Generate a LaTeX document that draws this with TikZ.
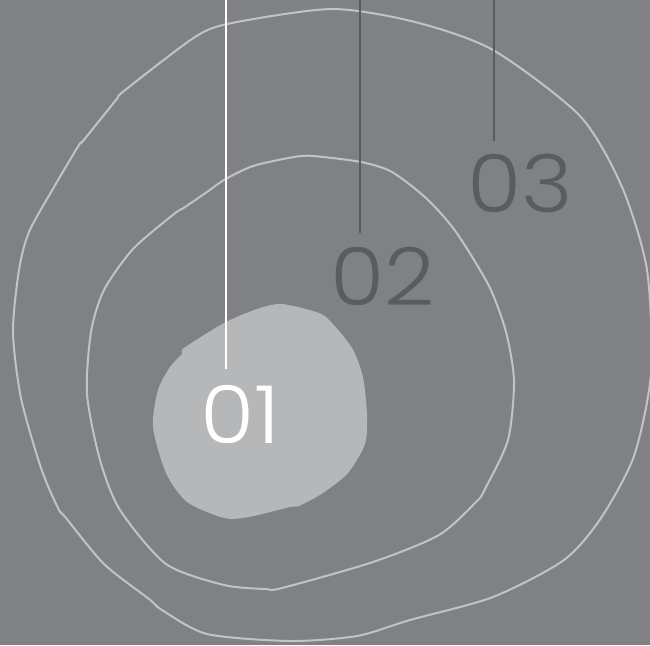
\documentclass[tikz,border=0pt]{standalone}
\usepackage{fontspec}
\newfontfamily\numfont{Poppins Light}[FakeStretch=1.1]
\definecolor{bg}{HTML}{808185}
\definecolor{blob}{HTML}{B6B7B9}
\definecolor{ring}{HTML}{C2C3C5}
\definecolor{darknum}{HTML}{5B5C5F}
\tikzset{
  ringline/.style={draw=ring, line width=2pt, line join=round},
  numtext/.style={inner sep=0pt, anchor=base west, font=\numfont\fontsize{80}{80}\selectfont},
  pin/.style={line width=2.6pt}
}
\begin{document}
\begin{tikzpicture}[x=1pt,y=-1pt]
\fill[bg] (0,0) rectangle (650,645);
\useasboundingbox (0,0) rectangle (650,645);
% outer ring
\draw[ringline] plot[smooth cycle, tension=0.45] coordinates {
(332,9) (415,22) (493,50) (580,116) (622,187) (647,270) (651,373) (634,456) (601,518) (564,560) (493,597) (410,620) (357,636) (290,641) (207,634) (162,610) (149,599) (104,564) (66,518) (58,508) (41,468) (21,398) (13,332) (19,270) (29,232) (54,187) (79,145) (83,141) (116,100) (124,91) (195,37) (232,23)};
% middle ring
\draw[ringline] plot[smooth cycle, tension=0.45] coordinates {
(313,156) (361,162) (392,172) (427,199) (456,232) (489,286) (506,332) (514,381) (508,440) (485,489) (477,501) (439,535) (373,562) (282,588) (265,589) (224,585) (166,564) (120,510) (100,460) (87,394) (91,332) (104,290) (133,249) (174,214) (182,209) (191,203) (207,192) (224,180) (253,166) (294,157)};
% blob
\fill[blob] plot[smooth cycle, tension=0.45] coordinates {
(282,304) (319,313) (332,323) (352,348) (363,377) (367,415) (365,444) (348,473) (323,493) (299,506) (290,507) (249,517) (224,518) (187,502) (166,473) (153,427) (158,390) (170,367) (182,354) (184,348) (224,323) (257,309)};
% labels
\node[numtext, text=white] (n1) at (200,443) {01};
\node[numtext, text=darknum] (n2) at (330,305) {02};
\node[numtext, text=darknum] (n3) at (467,212) {03};
% pins
\coordinate (t1) at (226,0);
\coordinate (t2) at (360,0);
\coordinate (t3) at (494,0);
\coordinate (b1) at (226,369);
\coordinate (b2) at (360,233);
\coordinate (b3) at (494,141);
\draw[pin, white] (t1) -- (b1);
\draw[pin, darknum] (t2) -- (b2);
\draw[pin, darknum] (t3) -- (b3);
\end{tikzpicture}
\end{document}
